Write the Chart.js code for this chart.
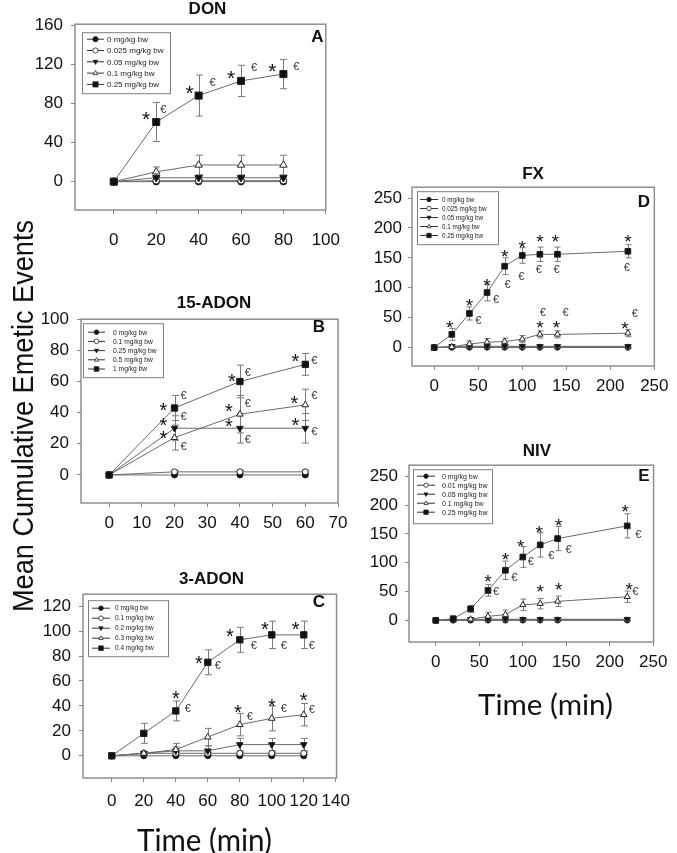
<!DOCTYPE html>
<html>
<head>
<meta charset="utf-8">
<script src="https://cdn.jsdelivr.net/npm/chart.js@4.4.1/dist/chart.umd.min.js"></script>
<style>
  html, body { margin: 0; padding: 0; background: #fff; width: 677px; height: 853px; overflow: hidden; }
  body { position: relative; }
  canvas { position: absolute; }
  svg { position: absolute; left: 0; top: 0; pointer-events: none; }
  svg text { font-family: "Liberation Sans", Arial, sans-serif; fill: #111; }
</style>
</head>
<body>
<canvas id="cA"></canvas>
<canvas id="cB"></canvas>
<canvas id="cC"></canvas>
<canvas id="cD"></canvas>
<canvas id="cE"></canvas>
<svg width="677" height="853">
  <text x="207.5" y="13.5" text-anchor="middle" font-weight="bold" font-size="17">DON</text>
  <text x="214" y="307.5" text-anchor="middle" font-weight="bold" font-size="17">15-ADON</text>
  <text x="211.5" y="584" text-anchor="middle" font-weight="bold" font-size="17">3-ADON</text>
  <text x="533" y="178.5" text-anchor="middle" font-weight="bold" font-size="17">FX</text>
  <text x="537" y="456" text-anchor="middle" font-weight="bold" font-size="17">NIV</text>
  <text x="317.5" y="42" text-anchor="middle" font-weight="bold" font-size="17">A</text>
  <text x="319" y="332" text-anchor="middle" font-weight="bold" font-size="17">B</text>
  <text x="319" y="607" text-anchor="middle" font-weight="bold" font-size="17">C</text>
  <text x="644" y="207" text-anchor="middle" font-weight="bold" font-size="17">D</text>
  <text x="644" y="481" text-anchor="middle" font-weight="bold" font-size="17">E</text>
  <text transform="translate(33,416) rotate(-90)" text-anchor="middle" font-size="29"
        textLength="392" lengthAdjust="spacingAndGlyphs">Mean Cumulative Emetic Events</text>
  <text x="204.5" y="850.5" text-anchor="middle" font-size="30" style="font-family:Lato,'Open Sans',sans-serif"
        textLength="135" lengthAdjust="spacingAndGlyphs">Time (min)</text>
  <text x="545.5" y="715" text-anchor="middle" font-size="28" style="font-family:Lato,'Open Sans',sans-serif"
        textLength="135" lengthAdjust="spacingAndGlyphs">Time (min)</text>
</svg>
<script>
// ---- data ----

// A: DON
const doseDON = ['0 mg/kg bw', '0.025 mg/kg bw', '0.05 mg/kg bw', '0.1 mg/kg bw', '0.25 mg/kg bw'];
const timeDON = [0, 20, 40, 60, 80];
const don0 = [0, 0, 0, 0, 0];
const don0025 = [0, 1, 1, 1, 1];
const don005 = [0, 4, 4, 4, 4];
const don01 = [0, 10, 17, 17, 17];
const don025 = [0, 61, 88, 103, 110];
const errDon0 = [0, 0, 0, 0, 0];
const errDon0025 = [0, 1, 1, 1, 1];
const errDon005 = [0, 2, 2, 2, 2];
const errDon01 = [0, 5, 10, 10, 10];
const errDon025 = [0, 20, 21, 16, 15];
const xTicksDON = [0, 20, 40, 60, 80, 100];
const yTicksDON = [0, 40, 80, 120, 160];

// B: 15-ADON
const dose15 = ['0 mg/kg bw', '0.1 mg/kg bw', '0.25 mg/kg bw', '0.5 mg/kg bw', '1 mg/kg bw'];
const time15 = [0, 20, 40, 60];
const adon15_0 = [0, 0, 0, 0];
const adon15_01 = [0, 2, 2, 2];
const adon15_025 = [0, 30, 30, 30];
const adon15_05 = [0, 24, 39, 45];
const adon15_1 = [0, 43, 60, 71];
const err15_0 = [0, 0, 0, 0];
const err15_01 = [0, 1, 1, 1];
const err15_025 = [0, 8, 9.5, 9.5];
const err15_05 = [0, 8, 12, 10];
const err15_1 = [0, 8, 10.5, 7];
const xTicks15 = [0, 10, 20, 30, 40, 50, 60, 70];
const yTicks15 = [0, 20, 40, 60, 80, 100];

// C: 3-ADON
const dose3 = ['0 mg/kg bw', '0.1 mg/kg bw', '0.2 mg/kg bw', '0.3 mg/kg bw', '0.4 mg/kg bw'];
const time3 = [0, 20, 40, 60, 80, 100, 120];
const adon3_0 = [0, 0, 0, 0, 0, 0, 0];
const adon3_01 = [0, 2, 2, 2, 2, 2, 2];
const adon3_02 = [0, 2, 4, 4, 9, 9, 9];
const adon3_03 = [0, 2, 5, 15, 25, 30, 33];
const adon3_04 = [0, 18, 36, 75, 93, 97, 97];
const err3_0 = [0, 0, 0, 0, 0, 0, 0];
const err3_01 = [0, 1, 1, 1, 1, 1, 1];
const err3_02 = [0, 1, 3, 4, 5, 5, 5];
const err3_03 = [0, 1, 5, 7, 9, 10, 9];
const err3_04 = [0, 8, 8, 10, 10, 11, 11];
const xTicks3 = [0, 20, 40, 60, 80, 100, 120, 140];
const yTicks3 = [0, 20, 40, 60, 80, 100, 120];

// D: FX
const doseFX = ['0 mg/kg bw', '0.025 mg/kg bw', '0.05 mg/kg bw', '0.1 mg/kg bw', '0.25 mg/kg bw'];
const timeFX = [0, 20, 40, 60, 80, 100, 120, 140, 220];
const fx0 = [0, 0, 0, 0, 0, 0, 0, 0, 0];
const fx0025 = [0, 1, 1, 1, 1, 1, 1, 1, 1];
const fx005 = [0, 2, 2, 2, 2, 2, 2, 2, 2];
const fx01 = [0, 1, 6, 9, 10, 14, 22, 22, 24];
const fx025 = [0, 22, 57, 92, 136, 154, 156, 156, 161];
const errFx0 = [0, 0, 0, 0, 0, 0, 0, 0, 0];
const errFx0025 = [0, 2, 2, 2, 2, 2, 2, 2, 2];
const errFx005 = [0, 2, 3, 3, 3, 3, 3, 3, 3];
const errFx01 = [0, 3, 5, 6, 6, 6, 6, 6, 6];
const errFx025 = [0, 10, 11, 14, 14, 13, 12, 12, 11];
const xTicksFX = [0, 50, 100, 150, 200, 250];
const yTicksFX = [0, 50, 100, 150, 200, 250];

// E: NIV
const doseNIV = ['0 mg/kg bw', '0.01 mg/kg bw', '0.05 mg/kg bw', '0.1 mg/kg bw', '0.25 mg/kg bw'];
const timeNIV = [0, 20, 40, 60, 80, 100, 120, 140, 220];
const niv0 = [0, 0, 0, 0, 0, 0, 0, 0, 0];
const niv001 = [0, 1, 1, 1, 1, 1, 1, 1, 1];
const niv005 = [0, 1, 2, 2, 2, 2, 2, 2, 2];
const niv01 = [0, 1, 2, 7, 10, 27, 29, 33, 41];
const niv025 = [0, 3, 20, 52, 87, 110, 131, 142, 164];
const errNiv0 = [0, 0, 0, 0, 0, 0, 0, 0, 0];
const errNiv001 = [0, 1, 1, 2, 2, 2, 2, 2, 2];
const errNiv005 = [0, 1, 2, 2, 2, 2, 2, 2, 2];
const errNiv01 = [0, 1, 2, 7, 8, 10, 9, 9, 10];
const errNiv025 = [0, 2, 6, 10, 16, 18, 21, 21, 21];
const xTicksNIV = [0, 50, 100, 150, 200, 250];
const yTicksNIV = [0, 50, 100, 150, 200, 250];

// significance marks: [series, point, symbol, dx, dy] (offsets in px from the point)
const marksDON = [
  [4, 1, '*', -10, -8], [4, 1, '€', 7, -13], [4, 2, '*', -9, -8], [4, 2, '€', 14, -14],
  [4, 3, '*', -10, -8], [4, 3, '€', 13, -14], [4, 4, '*', -11, -8], [4, 4, '€', 13, -8]
];
const marks15 = [
  [4, 1, '*', -11, -3], [2, 1, '*', -11, -8], [3, 1, '*', -11, -4],
  [4, 1, '€', 9, -13], [2, 1, '€', 9, -12], [3, 1, '€', 9, 8],
  [4, 2, '*', -8, -5], [3, 2, '*', -11, -8], [2, 2, '*', -11, -7],
  [4, 2, '€', 8, -9], [3, 2, '€', 8, -11], [2, 2, '€', 8, 11],
  [4, 3, '*', -10, -8], [3, 3, '*', -11, -6], [2, 3, '*', -10, -8],
  [4, 3, '€', 9, -4], [3, 3, '€', 9, -10], [2, 3, '€', 9, 3]
];
const marks3 = [
  [4, 2, '*', 0, -18], [4, 2, '€', 12, -3], [4, 3, '*', -9, -4], [4, 3, '€', 10, 3],
  [4, 4, '*', -10, -8], [4, 4, '€', 14, 5], [4, 5, '*', -7, -10], [4, 5, '€', 12, 10],
  [4, 6, '*', -8, -10], [4, 6, '€', 8, 10],
  [3, 4, '*', -2, -17], [3, 4, '€', 10, -9], [3, 5, '*', 0, -17], [3, 5, '€', 12, -10],
  [3, 6, '*', 0, -19], [3, 6, '€', 8, -6]
];
const marksFX = [
  [4, 1, '*', -2, -11], [4, 2, '*', 0, -12], [4, 3, '*', 0, -12], [4, 4, '*', 0, -14],
  [4, 5, '*', 0, -12], [4, 6, '*', 0, -17], [4, 7, '*', -2, -17], [4, 8, '*', 0, -14],
  [4, 2, '€', 9, 7], [4, 3, '€', 9, 7], [4, 4, '€', 3, 18], [4, 5, '€', -1, 21],
  [4, 6, '€', -1, 15], [4, 7, '€', -1, 15], [4, 8, '€', -1, 16],
  [3, 6, '*', 0, -11], [3, 7, '*', -1, -11], [3, 8, '*', -3, -9],
  [3, 6, '€', 3, -22], [3, 7, '€', 8, -22], [3, 8, '€', 7, -20]
];
const marksNIV = [
  [4, 3, '*', 0, -13], [4, 4, '*', 0, -15], [4, 5, '*', -2, -15], [4, 6, '*', -1, -17],
  [4, 7, '*', 1, -18], [4, 8, '*', -2, -19],
  [4, 3, '€', 8, 1], [4, 4, '€', 9, 7], [4, 5, '€', 8, 4], [4, 6, '€', 11, 10],
  [4, 7, '€', 11, 10], [4, 8, '€', 11, 8],
  [3, 6, '*', 0, -17], [3, 7, '*', 1, -16], [3, 8, '*', 2, -12], [3, 8, '€', 8, -6]
];

// ---- drawing ----
const FONT = '"Liberation Sans", Arial, sans-serif';
const markerStyles = [
  { shape: 'circle', fill: '#111', rot: 0 },
  { shape: 'circle', fill: '#fff', rot: 0 },
  { shape: 'triangle', fill: '#111', rot: 180 },
  { shape: 'triangle', fill: '#fff', rot: 0 },
  { shape: 'rect', fill: '#111', rot: 0 }
];

function drawMarker(ctx, m, x, y, r) {
  ctx.beginPath();
  if (m.shape === 'circle') {
    ctx.arc(x, y, r, 0, Math.PI * 2);
  } else if (m.shape === 'rect') {
    ctx.rect(x - r, y - r, 2 * r, 2 * r);
  } else {
    const s = m.rot ? -1 : 1;
    ctx.moveTo(x, y - s * r);
    ctx.lineTo(x - r * 0.9, y + s * r * 0.6);
    ctx.lineTo(x + r * 0.9, y + s * r * 0.6);
    ctx.closePath();
  }
  ctx.fillStyle = m.fill;
  ctx.fill();
  ctx.strokeStyle = '#222';
  ctx.lineWidth = 0.8;
  ctx.stroke();
}

const PT = 14, YW = 70, XH = 45;

function buildPanel(p) {
  const [l, t, r, b] = p.frame;
  const cv = document.getElementById(p.id);
  cv.width = (r - l) + YW + p.pr;
  cv.height = (b - t) + PT + XH;
  cv.style.left = (l - YW) + 'px';
  cv.style.top = (t - PT) + 'px';

  const datasets = p.series.map((vals, k) => {
    const m = markerStyles[k];
    return {
      label: p.labels[k],
      data: p.time.map((tt, i) => ({ x: tt, y: vals[i] })),
      err: p.errs[k],
      borderColor: '#6a6a6a',
      borderWidth: 1,
      pointStyle: m.shape,
      pointRotation: m.rot,
      pointBackgroundColor: m.fill,
      pointBorderColor: '#222',
      pointBorderWidth: 1,
      pointRadius: m.shape === 'rect' ? p.sq : (m.shape === 'circle' ? p.ci : p.tr),
      tension: 0,
      clip: false,
      order: 5 - k
    };
  });

  const framePlugin = {
    id: 'frame',
    beforeDatasetsDraw(chart) {
      const a = chart.chartArea, ctx = chart.ctx;
      ctx.save();
      ctx.strokeStyle = '#8f8f8f';
      ctx.lineWidth = 1.5;
      ctx.strokeRect(a.left, a.top, a.right - a.left, a.bottom - a.top);
      ctx.restore();
    }
  };

  const errorPlugin = {
    id: 'errorBars',
    beforeDatasetsDraw(chart) {
      const ctx = chart.ctx, ys = chart.scales.y;
      ctx.save();
      ctx.strokeStyle = '#7a7a7a';
      ctx.lineWidth = 1;
      chart.data.datasets.forEach((ds, di) => {
        const meta = chart.getDatasetMeta(di);
        meta.data.forEach((pt, i) => {
          const e = ds.err[i];
          if (!e) return;
          const v = ds.data[i].y;
          const top = ys.getPixelForValue(v + e), bot = ys.getPixelForValue(v - e);
          const x = Math.round(pt.x) + 0.5;
          ctx.beginPath();
          ctx.moveTo(x, top); ctx.lineTo(x, bot);
          ctx.moveTo(x - p.cap, top); ctx.lineTo(x + p.cap, top);
          ctx.moveTo(x - p.cap, bot); ctx.lineTo(x + p.cap, bot);
          ctx.stroke();
        });
      });
      ctx.restore();
    }
  };

  const marksPlugin = {
    id: 'marks',
    afterDatasetsDraw(chart) {
      const ctx = chart.ctx;
      ctx.save();
      ctx.textAlign = 'center';
      ctx.textBaseline = 'alphabetic';
      p.marks.forEach(([s, i, sym, dx, dy]) => {
        const pt = chart.getDatasetMeta(s).data[i];
        const x = pt.x + dx, y = pt.y + dy;
        if (sym === '*') {
          ctx.font = p.star + 'px ' + FONT;
          ctx.fillStyle = '#111';
          ctx.fillText('*', x, y + 0.58 * p.star);
        } else {
          ctx.font = '11px ' + FONT;
          ctx.fillStyle = '#333';
          ctx.fillText('€', x, y + 0.36 * 11);
        }
      });
      ctx.restore();
    }
  };

  const legendPlugin = {
    id: 'boxLegend',
    afterDatasetsDraw(chart) {
      const a = chart.chartArea, ctx = chart.ctx, L = p.legend;
      const bx = a.left + L.x, by = a.top + L.y;
      ctx.save();
      ctx.fillStyle = '#fff';
      ctx.fillRect(bx, by, L.w, L.h);
      ctx.strokeStyle = '#7f7f7f';
      ctx.lineWidth = 1;
      ctx.strokeRect(bx + 0.5, by + 0.5, L.w, L.h);
      ctx.font = L.font + 'px ' + FONT;
      ctx.textAlign = 'left';
      ctx.textBaseline = 'middle';
      p.labels.forEach((lab, k) => {
        const y = by + L.row0 + k * L.step;
        ctx.strokeStyle = '#333';
        ctx.lineWidth = 1;
        ctx.beginPath();
        ctx.moveTo(bx + L.line[0], y);
        ctx.lineTo(bx + L.line[1], y);
        ctx.stroke();
        drawMarker(ctx, markerStyles[k], bx + (L.line[0] + L.line[1]) / 2, y, L.mk);
        ctx.fillStyle = '#222';
        ctx.fillText(lab, bx + L.text, y + 0.5);
      });
      ctx.restore();
    }
  };

  const tickFont = { family: FONT, size: 17 };
  new Chart(cv, {
    type: 'line',
    data: { datasets },
    options: {
      responsive: false,
      animation: false,
      devicePixelRatio: 1,
      layout: { padding: { top: PT, right: p.pr, left: 0, bottom: 0 }, autoPadding: false },
      plugins: { legend: { display: false }, tooltip: { enabled: false } },
      scales: {
        x: {
          type: 'linear',
          min: p.x[0], max: p.x[1],
          afterBuildTicks: s => { s.ticks = p.xt.map(v => ({ value: v })); },
          afterFit: s => { s.height = XH; },
          ticks: { font: tickFont, color: '#111', padding: p.xPad, autoSkip: false, maxRotation: 0, callback: v => String(v) },
          grid: { drawOnChartArea: false, drawTicks: true, tickLength: 4, color: '#888' },
          border: { display: false }
        },
        y: {
          type: 'linear',
          min: p.y[0], max: p.y[1],
          afterBuildTicks: s => { s.ticks = p.yt.map(v => ({ value: v })); },
          afterFit: s => { s.width = YW; },
          ticks: { font: tickFont, color: '#111', padding: p.yPad, autoSkip: false, callback: v => String(v) },
          grid: { drawOnChartArea: false, drawTicks: true, tickLength: 4, color: '#888' },
          border: { display: false }
        }
      }
    },
    plugins: [framePlugin, errorPlugin, marksPlugin, legendPlugin]
  });
}

const panels = [
  { id: 'cA', frame: [75, 20, 338, 210], x: [-18.3, 100], y: [-29, 161], xt: xTicksDON, yt: yTicksDON,
    xPad: 16, yPad: 8, pr: 18, time: timeDON, labels: doseDON,
    series: [don0, don0025, don005, don01, don025], errs: [errDon0, errDon0025, errDon005, errDon01, errDon025],
    marks: marksDON, sq: 5, ci: 3.3, tr: 4.3, cap: 3.5, star: 21,
    legend: { x: 7, y: 8, w: 88, h: 61, font: 8, line: [5, 22], text: 25, row0: 7, step: 11.3, mk: 2.6 } },
  { id: 'cB', frame: [81, 315, 338, 503], x: [-8.6, 70], y: [-18, 100], xt: xTicks15, yt: yTicks15,
    xPad: 6, yPad: 8, pr: 18, time: time15, labels: dose15,
    series: [adon15_0, adon15_01, adon15_025, adon15_05, adon15_1], errs: [err15_0, err15_01, err15_025, err15_05, err15_1],
    marks: marks15, sq: 4.5, ci: 3, tr: 3.8, cap: 3.5, star: 20,
    legend: { x: 2, y: 4, w: 80, h: 54, font: 6.7, line: [5, 22], text: 30, row0: 9, step: 9.2, mk: 2.3 } },
  { id: 'cC', frame: [83, 590, 341, 778], x: [-18, 140.5], y: [-17.8, 129.6], xt: xTicks3, yt: yTicks3,
    xPad: 9, yPad: 8, pr: 18, time: time3, labels: dose3,
    series: [adon3_0, adon3_01, adon3_02, adon3_03, adon3_04], errs: [err3_0, err3_01, err3_02, err3_03, err3_04],
    marks: marks3, sq: 4.5, ci: 3, tr: 3.8, cap: 3.5, star: 20,
    legend: { x: 5, y: 6, w: 80, h: 56, font: 6.5, line: [4, 22], text: 27, row0: 8, step: 10, mk: 2.3 } },
  { id: 'cD', frame: [412, 185, 663, 366], x: [-25.2, 250], y: [-30.9, 268.2], xt: xTicksFX, yt: yTicksFX,
    xPad: 6.5, yPad: 6, pr: 12, time: timeFX, labels: doseFX,
    series: [fx0, fx0025, fx005, fx01, fx025], errs: [errFx0, errFx0025, errFx005, errFx01, errFx025],
    marks: marksFX, sq: 4, ci: 2.7, tr: 3.5, cap: 3, star: 19,
    legend: { x: 5, y: 4, w: 81, h: 53, font: 6.3, line: [3, 21], text: 25, row0: 8.3, step: 9, mk: 2.2 } },
  { id: 'cE', frame: [409, 462, 662, 642], x: [-30.8, 250.3], y: [-37.5, 269.3], xt: xTicksNIV, yt: yTicksNIV,
    xPad: 6.5, yPad: 7, pr: 12, time: timeNIV, labels: doseNIV,
    series: [niv0, niv001, niv005, niv01, niv025], errs: [errNiv0, errNiv001, errNiv005, errNiv01, errNiv025],
    marks: marksNIV, sq: 4, ci: 2.7, tr: 3.5, cap: 3, star: 19,
    legend: { x: 4, y: 4, w: 79, h: 54, font: 7, line: [4, 22], text: 29, row0: 7, step: 9, mk: 2.2 } }
];

panels.forEach(buildPanel);
</script>
</body>
</html>
